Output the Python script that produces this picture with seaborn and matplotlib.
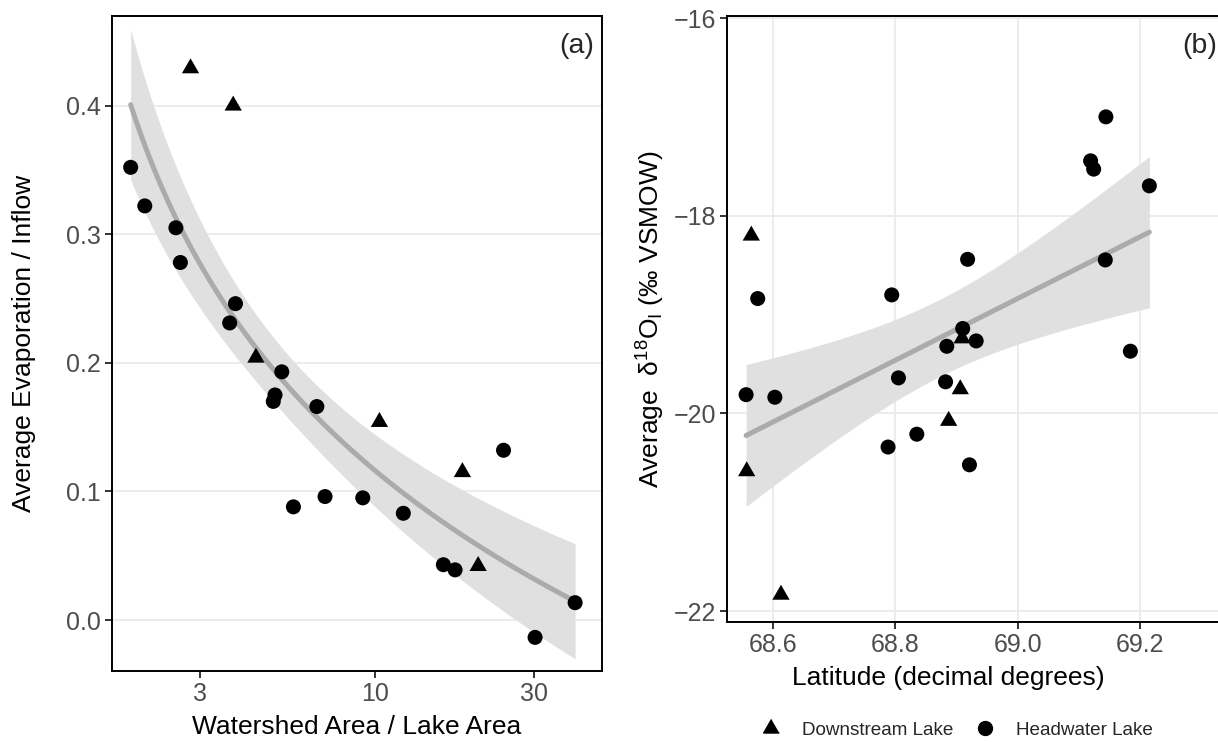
import numpy as np
import pandas as pd
import matplotlib
matplotlib.use("Agg")
import matplotlib.pyplot as plt
import seaborn as sns
from matplotlib.lines import Line2D

# ---------------- data ----------------
# panel (a): watershed/lake area ratio vs evaporation/inflow
ratio_down = [2.81, 3.77, 4.41, 10.33, 18.3, 20.4]
evap_down = [0.429, 0.400, 0.204, 0.154, 0.115, 0.042]
ratio_head = [1.86, 2.05, 2.54, 2.62, 3.83, 3.68, 5.27, 5.03, 4.97, 6.71,
              24.3, 5.71, 7.10, 9.21, 12.18, 16.05, 17.4, 39.8, 30.2]
evap_head = [0.352, 0.322, 0.305, 0.278, 0.246, 0.231, 0.193, 0.175, 0.170, 0.166,
             0.132, 0.088, 0.096, 0.095, 0.083, 0.043, 0.039, 0.0135, -0.0135]

# panel (b): latitude vs d18O
lat_down = [68.5645, 68.909, 68.906, 68.887, 68.557, 68.613]
d18o_down = [-18.20, -19.24, -19.755, -20.075, -20.585, -21.835]
lat_head = [68.575, 68.794, 68.918, 69.144, 69.119, 69.124, 69.215, 69.143, 68.910, 68.932,
            68.884, 69.184, 68.805, 68.882, 68.556, 68.603, 68.835, 68.788, 68.921]
d18o_head = [-18.837, -18.80, -18.44, -16.998, -17.443, -17.527, -17.696, -18.446, -19.14, -19.266,
             -19.32, -19.37, -19.64, -19.68, -19.81, -19.836, -20.21, -20.34, -20.52]

groups = ["Downstream Lake", "Headwater Lake"]
xticks_a = [3, 10, 30]
yticks_a = [0.0, 0.1, 0.2, 0.3, 0.4]
xticks_b = [68.6, 68.8, 69.0, 69.2]
yticks_b = [-22, -20, -18, -16]

df_a = pd.DataFrame({
    "ratio": ratio_down + ratio_head,
    "evap": evap_down + evap_head,
    "type": [groups[0]] * len(ratio_down) + [groups[1]] * len(ratio_head),
})
df_b = pd.DataFrame({
    "lat": lat_down + lat_head,
    "d18o": d18o_down + d18o_head,
    "type": [groups[0]] * len(lat_down) + [groups[1]] * len(lat_head),
})

# ---------------- style ----------------
sns.set_theme(style="white")
plt.rcParams["font.family"] = ["Liberation Sans", "DejaVu Sans"]
plt.rcParams["mathtext.fontset"] = "custom"
plt.rcParams["mathtext.rm"] = "Liberation Sans"
plt.rcParams["mathtext.it"] = "Liberation Sans:italic"
plt.rcParams["mathtext.bf"] = "Liberation Sans:bold"

TRI = [(0, 1.0), (-0.866, -0.5), (0.866, -0.5)]
LINE_C = "#ABABAB"
BAND_C = "#E0E0E0"
GRID_C = "#EBEBEB"
T975 = 2.0687  # t quantile, df = 23


def lm_band(xt, y, xgrid_t):
    xt = np.asarray(xt)
    y = np.asarray(y)
    n = len(xt)
    X = np.column_stack([np.ones(n), xt])
    beta, *_ = np.linalg.lstsq(X, y, rcond=None)
    resid = y - X @ beta
    s2 = resid @ resid / (n - 2)
    xbar = xt.mean()
    sxx = ((xt - xbar) ** 2).sum()
    fit = beta[0] + beta[1] * xgrid_t
    se = np.sqrt(s2 * (1.0 / n + (xgrid_t - xbar) ** 2 / sxx))
    return fit, fit - T975 * se, fit + T975 * se


W, H = 1218, 742
fig = plt.figure(figsize=(W / 100, H / 100), dpi=100)

ax1 = fig.add_axes([111.7 / W, 1 - 670.7 / H, 490 / W, 655 / H])
ax2 = fig.add_axes([727 / W, 1 - 622 / H, 497 / W, 606 / H])

# ---------- panel (a) ----------
xr = df_a["ratio"].to_numpy()
u = np.log(np.log10(xr))
gx = np.logspace(np.log10(xr.min()), np.log10(xr.max()), 120)
fit, lo, hi = lm_band(u, df_a["evap"].to_numpy(), np.log(np.log10(gx)))
ax1.fill_between(gx, lo, hi, color=BAND_C, lw=0, zorder=2)
sns.lineplot(x=gx, y=fit, color=LINE_C, lw=3.6, ax=ax1, zorder=3)
sub = df_a[df_a.type == groups[0]]
sns.scatterplot(data=sub, x="ratio", y="evap", marker=TRI, s=207, color="black",
                edgecolor="none", ax=ax1, zorder=4)
sub = df_a[df_a.type == groups[1]]
sns.scatterplot(data=sub, x="ratio", y="evap", marker="o", s=117, color="black",
                edgecolor="none", ax=ax1, zorder=4)
ax1.set_xscale("log")
ax1.set_xlim(1.632, 47.8)
ax1.set_ylim(-0.0394, 0.4699)
ax1.set_xticks(xticks_a)
ax1.set_xticklabels([str(v) for v in xticks_a])
ax1.xaxis.set_minor_locator(matplotlib.ticker.NullLocator())
ax1.set_yticks(yticks_a)
ax1.set_yticklabels([f"{v:.1f}" for v in yticks_a])
ax1.grid(axis="y", color=GRID_C, lw=1.3, zorder=0)
ax1.grid(axis="x", visible=False)
ax1.set_axisbelow(True)
ax1.set_xlabel("Watershed Area / Lake Area", fontsize=19, color="black")
ax1.set_ylabel("Average Evaporation / Inflow", fontsize=19, color="black", va="center")
ax1.xaxis.set_label_coords(0.5, -0.0855)
ax1.yaxis.set_label_coords(-0.179, 0.5)
ax1.xaxis.label.set_va("center")
ax1.text(0.984, 0.953, "(a)", transform=ax1.transAxes, ha="right", va="center", fontsize=20.5)

# ---------- panel (b) ----------
xl = df_b["lat"].to_numpy()
gl = np.linspace(xl.min(), xl.max(), 80)
fit, lo, hi = lm_band(xl, df_b["d18o"].to_numpy(), gl)
ax2.fill_between(gl, lo, hi, color=BAND_C, lw=0, zorder=2)
sns.lineplot(x=gl, y=fit, color=LINE_C, lw=3.6, ax=ax2, zorder=3)
sub = df_b[df_b.type == groups[0]]
sns.scatterplot(data=sub, x="lat", y="d18o", marker=TRI, s=207, color="black",
                edgecolor="none", ax=ax2, zorder=4)
sub = df_b[df_b.type == groups[1]]
sns.scatterplot(data=sub, x="lat", y="d18o", marker="o", s=117, color="black",
                edgecolor="none", ax=ax2, zorder=4)
ax2.set_xlim(68.5248, 69.337)
ax2.set_ylim(-22.111, -15.977)
ax2.set_xticks(xticks_b)
ax2.set_xticklabels([f"{v:.1f}" for v in xticks_b])
ax2.set_yticks(yticks_b)
ax2.grid(True, color=GRID_C, lw=1.3, zorder=0)
ax2.set_axisbelow(True)
ax2.set_xlabel("Latitude (decimal degrees)", fontsize=19, color="black")
ax2.set_ylabel("Average  \u03b4$^{18}$O$_\\mathregular{I}$ (\u2030 VSMOW)", fontsize=19,
               color="black", va="center")
ax2.xaxis.set_label_coords((948 - 727) / 497, -0.0924)
ax2.xaxis.label.set_va("center")
ax2.yaxis.set_label_coords(-0.153, 0.5)
ax2.text(0.986, 0.9505, "(b)", transform=ax2.transAxes, ha="right", va="center", fontsize=20.5)

for ax in (ax1, ax2):
    for sp in ax.spines.values():
        sp.set_color("black")
        sp.set_linewidth(1.4)
    ax.tick_params(axis="both", which="major", length=5, width=1.4, color="#333333",
                   labelcolor="#4D4D4D", labelsize=18, pad=3,
                   bottom=True, left=True, top=False, right=False)

# ---------- legend ----------
handles = [
    Line2D([], [], marker=TRI, color="black", ls="none", ms=13),
    Line2D([], [], marker="o", color="black", ls="none", ms=10),
]
fig.legend(handles, groups, loc="center", bbox_to_anchor=(957.1 / W, 1 - 730 / H),
           ncol=2, frameon=False, fontsize=13.6, handlelength=1.0, handletextpad=1.14,
           columnspacing=1.17, borderpad=0)

fig.savefig("out.png", dpi=100)
